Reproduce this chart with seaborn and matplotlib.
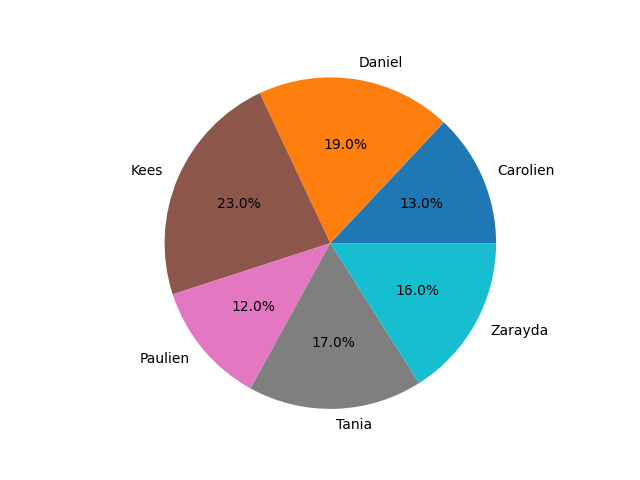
import seaborn as sns
import matplotlib
matplotlib.use("Agg")
import matplotlib.pyplot as plt

names = ["Carolien", "Daniel", "Kees", "Paulien", "Tania", "Zarayda"]
shares = [13, 19, 23, 12, 17, 16]
color_idx = [0, 1, 5, 6, 7, 9]

palette = sns.color_palette("tab10")
colors = [palette[i] for i in color_idx]

fig = plt.figure(figsize=(6.4, 4.8), dpi=100)
# square box so the pie (limits +-1.25) lands where the reference has it
ax = fig.add_axes([0.1924, 0.0618, 0.6475, 0.8633])
ax.pie(shares, labels=names, colors=colors, autopct="%1.1f%%")
fig.savefig("out.png")
